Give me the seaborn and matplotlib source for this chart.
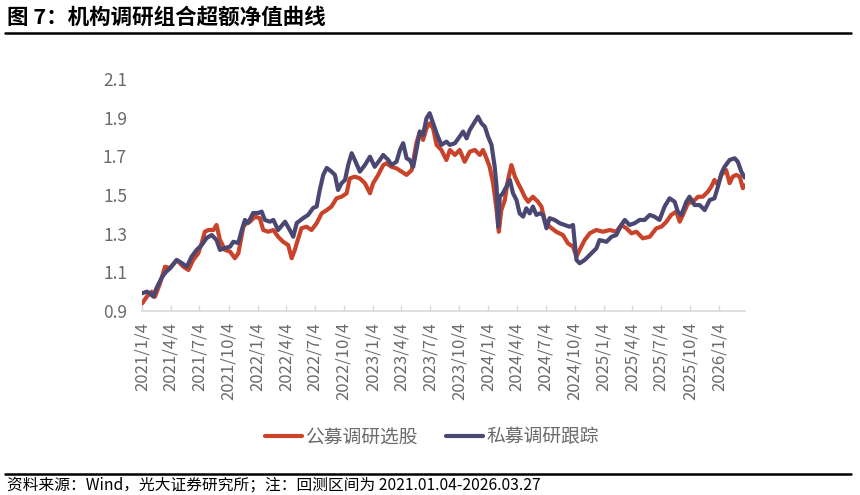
import matplotlib
matplotlib.use("Agg")
import matplotlib.pyplot as plt
from matplotlib.lines import Line2D
import seaborn as sns
import pandas as pd

# ---------------- data ----------------
pub_dates = [
    "2021-01-04", "2021-01-18", "2021-02-03", "2021-02-13", "2021-03-01", "2021-03-17",
    "2021-04-02", "2021-04-23", "2021-05-14", "2021-05-30", "2021-06-14", "2021-06-30",
    "2021-07-11", "2021-07-21", "2021-08-01", "2021-08-17", "2021-08-27", "2021-09-07",
    "2021-09-23", "2021-10-09", "2021-10-24", "2021-11-04", "2021-11-20", "2021-11-30",
    "2021-12-11", "2021-12-27", "2022-01-11", "2022-01-22", "2022-02-07", "2022-02-23",
    "2022-03-10", "2022-03-26", "2022-04-11", "2022-04-22", "2022-05-02", "2022-05-08",
    "2022-05-23", "2022-06-08", "2022-06-24", "2022-07-10", "2022-07-26", "2022-08-11",
    "2022-08-26", "2022-09-11", "2022-09-27", "2022-10-13", "2022-10-23", "2022-11-08",
    "2022-11-24", "2022-12-10", "2022-12-26", "2023-01-05", "2023-01-21", "2023-02-06",
    "2023-02-16", "2023-03-04", "2023-03-20", "2023-04-05", "2023-04-21", "2023-05-07",
    "2023-05-22", "2023-06-02", "2023-06-12", "2023-06-23", "2023-07-03", "2023-07-14",
    "2023-07-25", "2023-08-09", "2023-08-25", "2023-09-05", "2023-09-21", "2023-10-06",
    "2023-10-22", "2023-11-07", "2023-11-23", "2023-12-09", "2023-12-19", "2023-12-30",
    "2024-01-09", "2024-01-20", "2024-01-31", "2024-02-07", "2024-02-15", "2024-02-26",
    "2024-03-07", "2024-03-18", "2024-03-29", "2024-04-08", "2024-04-19", "2024-04-29",
    "2024-05-10", "2024-05-25", "2024-06-10", "2024-06-21", "2024-07-01", "2024-07-17",
    "2024-08-07", "2024-08-28", "2024-09-13", "2024-09-29", "2024-10-10", "2024-10-20",
    "2024-11-05", "2024-11-21", "2024-12-12", "2025-01-02", "2025-01-23", "2025-02-13",
    "2025-03-01", "2025-03-17", "2025-04-02", "2025-04-18", "2025-05-08", "2025-05-30",
    "2025-06-20", "2025-07-06", "2025-07-22", "2025-08-06", "2025-08-22", "2025-09-02",
    "2025-09-12", "2025-09-28", "2025-10-14", "2025-10-30", "2025-11-14", "2025-11-30",
    "2025-12-11", "2025-12-21", "2026-01-01", "2026-01-12", "2026-01-27", "2026-02-07",
    "2026-02-17", "2026-02-28", "2026-03-11", "2026-03-21", "2026-03-27",
]
pub_values = [
    0.940, 0.974, 1.000, 0.974, 1.043, 1.129,
    1.122, 1.164, 1.129, 1.112, 1.164, 1.198,
    1.252, 1.310, 1.319, 1.319, 1.345, 1.267,
    1.216, 1.207, 1.173, 1.198, 1.336, 1.355,
    1.362, 1.388, 1.380, 1.319, 1.310, 1.319,
    1.284, 1.258, 1.241, 1.173, 1.216, 1.250,
    1.328, 1.336, 1.319, 1.354, 1.405, 1.422,
    1.440, 1.483, 1.491, 1.509, 1.586, 1.595,
    1.586, 1.561, 1.509, 1.561, 1.604, 1.655,
    1.664, 1.646, 1.638, 1.621, 1.604, 1.629,
    1.768, 1.828, 1.785, 1.845, 1.871, 1.845,
    1.759, 1.733, 1.681, 1.733, 1.707, 1.733,
    1.672, 1.724, 1.733, 1.707, 1.733, 1.690,
    1.646, 1.561, 1.422, 1.310, 1.422, 1.474,
    1.578, 1.655, 1.595, 1.561, 1.526, 1.491,
    1.465, 1.491, 1.465, 1.440, 1.371, 1.336,
    1.310, 1.293, 1.250, 1.233, 1.181, 1.216,
    1.267, 1.302, 1.319, 1.310, 1.319, 1.310,
    1.345, 1.328, 1.302, 1.310, 1.276, 1.284,
    1.328, 1.336, 1.362, 1.397, 1.414, 1.362,
    1.397, 1.457, 1.465, 1.491, 1.491, 1.517,
    1.543, 1.578, 1.552, 1.604, 1.629, 1.561,
    1.595, 1.604, 1.595, 1.535, 1.550,
]

pri_dates = [
    "2021-01-04", "2021-01-18", "2021-01-28", "2021-02-08", "2021-02-18", "2021-03-06",
    "2021-03-17", "2021-04-02", "2021-04-23", "2021-05-09", "2021-05-25", "2021-06-09",
    "2021-06-25", "2021-07-11", "2021-07-27", "2021-08-12", "2021-08-27", "2021-09-07",
    "2021-09-23", "2021-10-09", "2021-10-19", "2021-11-04", "2021-11-15", "2021-11-25",
    "2021-12-05", "2021-12-21", "2022-01-06", "2022-01-17", "2022-01-27", "2022-02-12",
    "2022-02-23", "2022-03-10", "2022-04-01", "2022-04-16", "2022-04-27", "2022-05-08",
    "2022-05-29", "2022-06-13", "2022-06-29", "2022-07-10", "2022-07-20", "2022-07-31",
    "2022-08-11", "2022-08-26", "2022-09-06", "2022-09-16", "2022-09-27", "2022-10-08",
    "2022-10-18", "2022-10-29", "2022-11-08", "2022-11-24", "2022-12-10", "2022-12-26",
    "2023-01-10", "2023-01-26", "2023-02-06", "2023-02-22", "2023-03-04", "2023-03-20",
    "2023-03-31", "2023-04-10", "2023-04-21", "2023-05-01", "2023-05-12", "2023-05-22",
    "2023-06-02", "2023-06-12", "2023-06-23", "2023-07-03", "2023-07-14", "2023-07-25",
    "2023-08-09", "2023-08-25", "2023-09-05", "2023-09-21", "2023-10-06", "2023-10-17",
    "2023-10-28", "2023-11-07", "2023-11-23", "2023-12-03", "2023-12-14", "2023-12-25",
    "2024-01-04", "2024-01-15", "2024-01-25", "2024-01-31", "2024-02-05", "2024-02-10",
    "2024-02-20", "2024-03-02", "2024-03-13", "2024-03-23", "2024-04-03", "2024-04-13",
    "2024-04-24", "2024-05-04", "2024-05-15", "2024-05-25", "2024-06-05", "2024-06-16",
    "2024-06-26", "2024-07-07", "2024-07-17", "2024-08-02", "2024-08-18", "2024-09-03",
    "2024-09-18", "2024-09-29", "2024-10-10", "2024-10-20", "2024-11-05", "2024-11-21",
    "2024-12-12", "2024-12-22", "2025-01-13", "2025-01-29", "2025-02-13", "2025-03-01",
    "2025-03-12", "2025-03-27", "2025-04-12", "2025-04-28", "2025-05-14", "2025-05-30",
    "2025-06-14", "2025-06-30", "2025-07-16", "2025-08-01", "2025-08-17", "2025-08-27",
    "2025-09-07", "2025-09-23", "2025-10-03", "2025-10-19", "2025-11-04", "2025-11-20",
    "2025-12-06", "2025-12-21", "2026-01-01", "2026-01-12", "2026-01-22", "2026-02-07",
    "2026-02-23", "2026-03-05", "2026-03-16", "2026-03-27",
]
pri_values = [
    0.992, 1.000, 0.992, 0.974, 1.019, 1.071,
    1.097, 1.122, 1.164, 1.148, 1.129, 1.181,
    1.216, 1.241, 1.278, 1.293, 1.267, 1.216,
    1.226, 1.233, 1.258, 1.252, 1.319, 1.371,
    1.355, 1.407, 1.407, 1.414, 1.371, 1.362,
    1.371, 1.319, 1.362, 1.319, 1.284, 1.355,
    1.381, 1.397, 1.433, 1.440, 1.526, 1.604,
    1.640, 1.621, 1.604, 1.526, 1.561, 1.578,
    1.655, 1.716, 1.681, 1.621, 1.655, 1.698,
    1.646, 1.681, 1.707, 1.681, 1.655, 1.672,
    1.733, 1.768, 1.690, 1.681, 1.646, 1.733,
    1.828, 1.810, 1.897, 1.923, 1.871, 1.819,
    1.759, 1.776, 1.759, 1.768, 1.802, 1.828,
    1.793, 1.836, 1.879, 1.905, 1.871, 1.853,
    1.802, 1.759, 1.646, 1.543, 1.336, 1.491,
    1.509, 1.543, 1.578, 1.509, 1.474, 1.405,
    1.388, 1.431, 1.405, 1.440, 1.397, 1.405,
    1.397, 1.328, 1.380, 1.371, 1.354, 1.345,
    1.336, 1.345, 1.164, 1.147, 1.164, 1.190,
    1.224, 1.267, 1.258, 1.284, 1.293, 1.345,
    1.371, 1.345, 1.354, 1.371, 1.371, 1.397,
    1.388, 1.371, 1.440, 1.483, 1.465, 1.414,
    1.397, 1.465, 1.491, 1.448, 1.448, 1.422,
    1.474, 1.483, 1.543, 1.612, 1.646, 1.681,
    1.690, 1.672, 1.621, 1.590,
]

series_names = ["公募调研选股", "私募调研跟踪"]
tick_labels = [
    "2021/1/4", "2021/4/4", "2021/7/4", "2021/10/4",
    "2022/1/4", "2022/4/4", "2022/7/4", "2022/10/4",
    "2023/1/4", "2023/4/4", "2023/7/4", "2023/10/4",
    "2024/1/4", "2024/4/4", "2024/7/4", "2024/10/4",
    "2025/1/4", "2025/4/4", "2025/7/4", "2025/10/4",
    "2026/1/4",
]
y_ticks = [0.9, 1.1, 1.3, 1.5, 1.7, 1.9, 2.1]
title_text = "图 7：机构调研组合超额净值曲线"
source_text = "资料来源：Wind，光大证券研究所；注：回测区间为 2021.01.04-2026.03.27"

# ---------------- styling ----------------
sns.set_theme(style="white")
plt.rcParams["font.family"] = ["Noto Sans CJK SC", "DejaVu Sans"]
plt.rcParams["axes.unicode_minus"] = False

RED = "#C8432A"
NAVY = "#4A4873"
GRAY_TXT = "#6A6A6A"

df = pd.concat([
    pd.DataFrame({"date": pd.to_datetime(pub_dates), "value": pub_values, "series": series_names[0]}),
    pd.DataFrame({"date": pd.to_datetime(pri_dates), "value": pri_values, "series": series_names[1]}),
], ignore_index=True)

fig = plt.figure(figsize=(8.6, 4.95), dpi=100)
ax = fig.add_axes([0.1655, 0.3717, 0.7005, 0.4687])

sns.lineplot(data=df, x="date", y="value", hue="series", hue_order=series_names,
             palette=[RED, NAVY], estimator=None, sort=True, linewidth=3.0,
             legend=False, ax=ax)

ax.set_xlim(pd.Timestamp(pub_dates[0]), pd.Timestamp(pub_dates[-1]))
ax.set_ylim(y_ticks[0], y_ticks[-1])
ax.set_yticks(y_ticks)
ax.set_yticklabels([f"{v:.1f}" for v in y_ticks])
tick_dates = pd.to_datetime(tick_labels, format="%Y/%m/%d")
ax.set_xticks(tick_dates)
ax.set_xticklabels(tick_labels, rotation=90)
ax.set_xlabel("")
ax.set_ylabel("")

for s in ["top", "right", "left"]:
    ax.spines[s].set_visible(False)
ax.spines["bottom"].set_color("#D9D9D9")
ax.spines["bottom"].set_linewidth(1.2)

ax.tick_params(axis="x", direction="in", length=4, width=1, color="#D9D9D9",
               labelsize=12, labelcolor=GRAY_TXT, pad=8, bottom=True)
ax.tick_params(axis="y", length=0, labelsize=12.5, labelcolor=GRAY_TXT, pad=11)
ax.grid(False)

# legend
handles = [Line2D([0], [0], color=RED, lw=3), Line2D([0], [0], color=NAVY, lw=3)]
fig.legend(handles, series_names, loc="center", bbox_to_anchor=(0.502, 0.117),
           ncol=2, frameon=False, fontsize=13.5, handlelength=2.0,
           handletextpad=0.15, columnspacing=1.5, labelcolor=GRAY_TXT)

# title, rules and source note
fig.text(0.008, 0.966, title_text, fontsize=15.5, fontweight="bold", color="black",
         ha="left", va="center")
fig.add_artist(Line2D([0.006, 0.99], [0.933, 0.933], color="black", lw=1.8,
                      transform=fig.transFigure))
fig.add_artist(Line2D([0.006, 0.99], [0.042, 0.042], color="black", lw=1.8,
                      transform=fig.transFigure))
fig.text(0.008, 0.021, source_text, fontsize=11.3, color="black", ha="left", va="center")

fig.savefig("out.png", dpi=100)
